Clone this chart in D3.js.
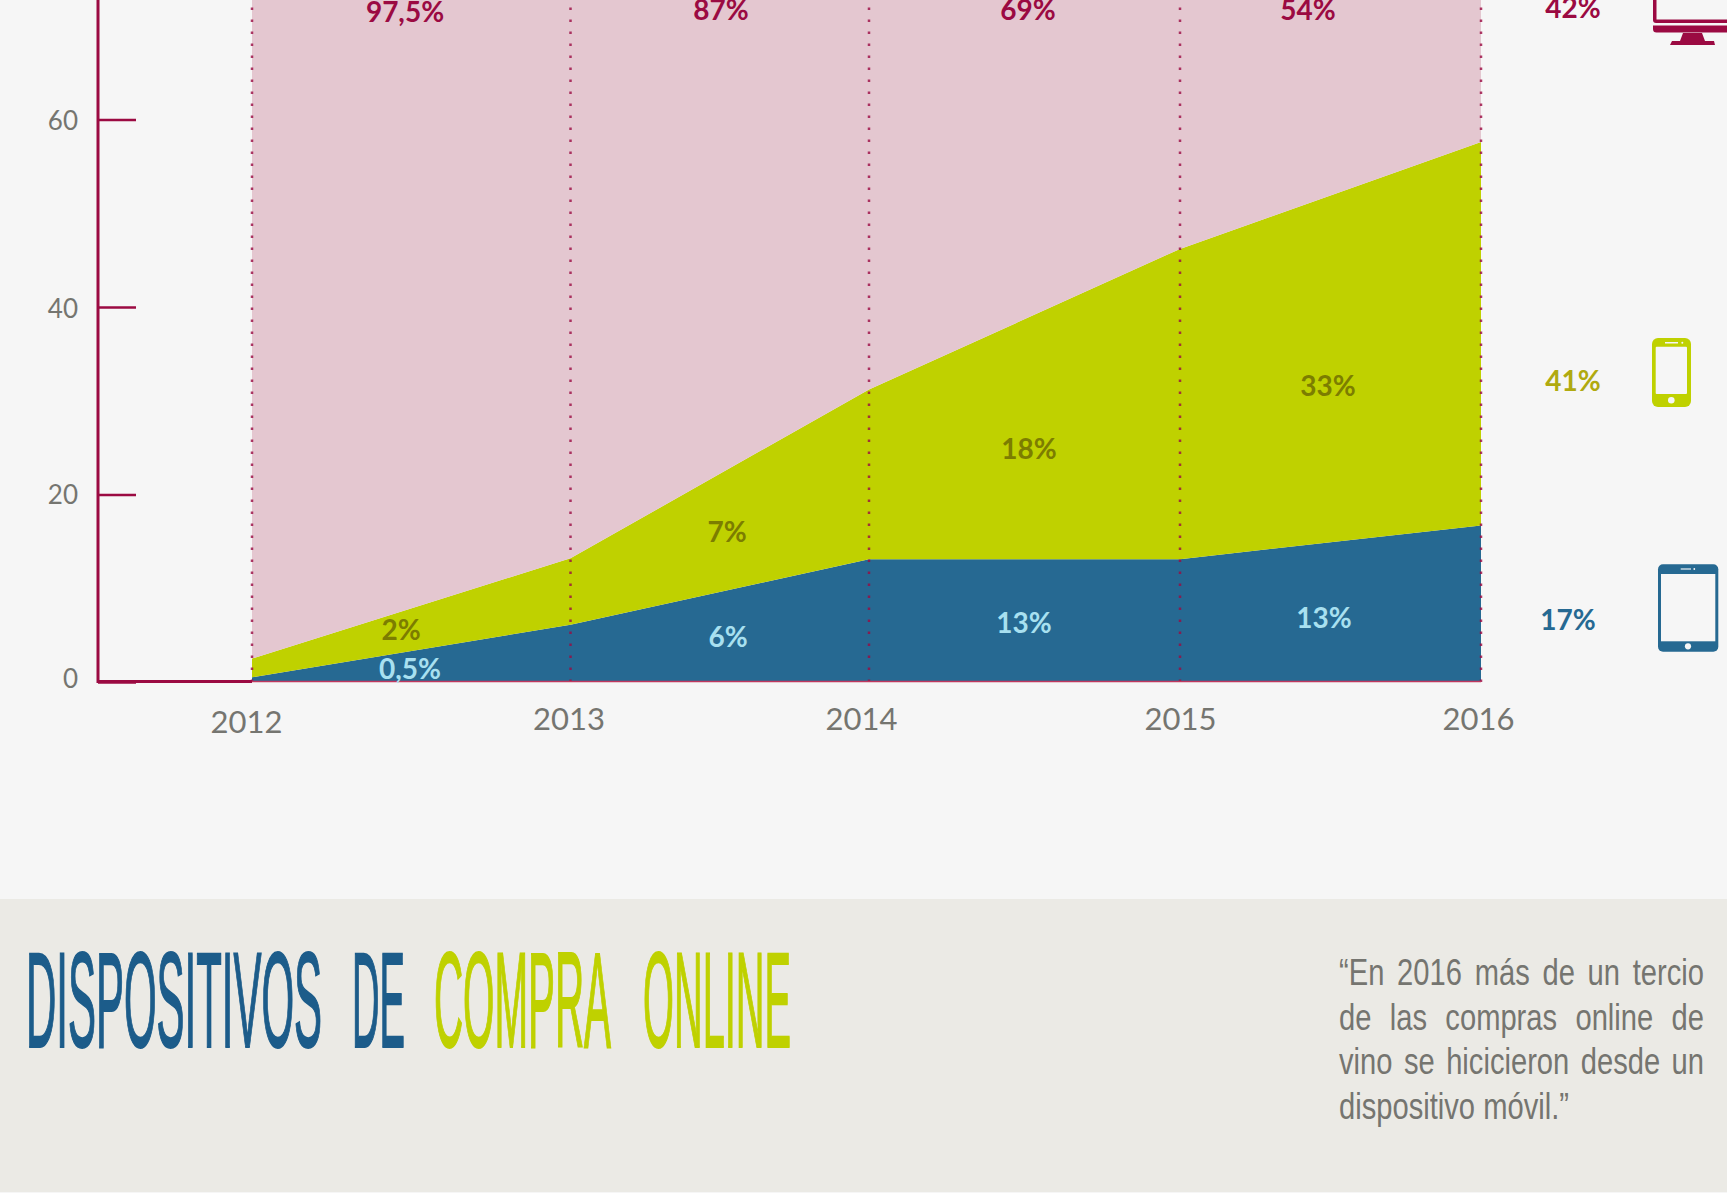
<!DOCTYPE html>
<html lang="es">
<head>
<meta charset="UTF-8">
<title>Dispositivos de compra online</title>
<style>
    html, body { margin: 0; padding: 0; background: #f6f6f6; overflow: hidden; }
    svg { display: block; }
    text { font-family: Lato, sans-serif; }
</style>
</head>
<body>
<svg id="chart" width="1727" height="1193"></svg>
<script src="https://d3js.org/d3.v7.min.js"></script>
<script>
// data
const years = [2012, 2013, 2014, 2015, 2016];
const tablet = [0.5, 6.1, 13.1, 13.1, 16.7];
const mobile = [2, 7.1, 18.1, 33.1, 40.9];
const desktop = [97.5, 87, 69, 54, 42];
const yTicks = [0, 20, 40, 60];
const desktopLabels = ["97,5%", "87%", "69%", "54%", "42%"];
const mobileLabels = ["2%", "7%", "18%", "33%", "41%"];
const tabletLabels = ["0,5%", "6%", "13%", "13%", "17%"];
const quoteLines = ["“En 2016 más de un tercio", "de las compras online de", "vino se hicicieron desde un", "dispositivo móvil.”"];
const titleWords = ["DISPOSITIVOS", "DE", "COMPRA", "ONLINE"];

// layout (the years are not evenly spaced in the original)
const yearX = [252, 570.5, 869, 1180, 1481];
const yearLabelDx = [-6, -2, -8, 0, -3];
const yearLabelY = [733, 730, 730, 730, 730];
const desktopPos = [[405, 22], [721, 20], [1028, 20], [1308, 20], [1573, 18]];
const mobilePos = [[401, 640], [727, 542], [1029, 459], [1328, 396], [1573, 391]];
const tabletPos = [[410, 679], [728, 647], [1024, 633], [1324, 628], [1568, 630]];
const titlePos = [[26, 296], [352, 53], [434, 177], [643, 148]];

const crimson = "#9b0a42", pink = "#e4c7d0", green = "#bfd100", blue = "#266992", grey = "#757570";

const svg = d3.select("#chart");
const x = d3.scaleLinear().domain(years).range(yearX);
const y = d3.scaleLinear().domain([0, 60]).range([682, 119.5]);

const rows = years.map((yr, i) => ({year: yr, tablet: tablet[i], mobile: mobile[i], desktop: desktop[i]}));
const layers = d3.stack().keys(["tablet", "mobile", "desktop"])(rows);
const colors = {tablet: blue, mobile: green, desktop: pink};
const area = d3.area().x(d => x(d.data.year)).y0(d => y(d[0])).y1(d => y(d[1]));

svg.append("rect").attr("width", 1727).attr("height", 1193).attr("fill", "#f6f6f6");

svg.selectAll(".layer")
    .data(layers)
    .enter()
    .append("path")
    .attr("class", "layer")
    .attr("d", area)
    .attr("fill", d => colors[d.key]);

// dotted year lines
svg.selectAll(".year-line")
    .data(years)
    .enter()
    .append("line")
    .attr("class", "year-line")
    .attr("x1", d => x(d))
    .attr("x2", d => x(d))
    .attr("y1", 682)
    .attr("y2", 0)
    .attr("stroke", crimson)
    .attr("stroke-opacity", 0.8)
    .attr("stroke-width", 2.5)
    .attr("stroke-dasharray", "2.5 9.5");

// baseline: thin over the areas, heavy before them
svg.append("line").attr("x1", x(2012)).attr("x2", x(2016)).attr("y1", 681.5).attr("y2", 681.5)
    .attr("stroke", "#c0385f").attr("stroke-width", 1.5);
svg.append("line").attr("x1", 97).attr("x2", x(2012)).attr("y1", 681.5).attr("y2", 681.5)
    .attr("stroke", crimson).attr("stroke-width", 3);

// y axis
const yAxis = svg.append("g")
    .attr("transform", "translate(98,0)")
    .call(d3.axisLeft(y).tickValues(yTicks).tickSize(-38).tickPadding(20));
yAxis.select(".domain").remove();
yAxis.append("line").attr("y1", 0).attr("y2", 683).attr("stroke", crimson).attr("stroke-width", 3);
yAxis.selectAll(".tick line").attr("stroke", crimson).attr("stroke-width", 2.5);
yAxis.selectAll(".tick text")
    .attr("fill", grey)
    .style("font-size", "26px")
    .attr("dy", d => d === 0 ? "0.2em" : d === 20 ? "0.36em" : "0.4em");

// x axis
const xAxis = svg.append("g")
    .attr("transform", "translate(0,682)")
    .call(d3.axisBottom(x).tickValues(years).tickFormat(d3.format("d")).tickSize(0));
xAxis.select(".domain").remove();
xAxis.selectAll(".tick text")
    .attr("fill", grey)
    .style("font-size", "31px")
    .attr("x", (d, i) => yearLabelDx[i])
    .attr("y", (d, i) => yearLabelY[i] - 682)
    .attr("dy", 0);

// value labels
function drawLabels(labels, pos, fill, endFill) {
    svg.append("g").selectAll("text")
        .data(labels)
        .enter()
        .append("text")
        .attr("x", (d, i) => pos[i][0])
        .attr("y", (d, i) => pos[i][1])
        .attr("text-anchor", "middle")
        .attr("fill", (d, i) => i === labels.length - 1 ? endFill : fill)
        .style("font-size", "28px")
        .style("font-weight", 700)
        .text(d => d);
}
drawLabels(desktopLabels, desktopPos, crimson, crimson);
drawLabels(mobileLabels, mobilePos, "#7c7d00", "#b0aa10");
drawLabels(tabletLabels, tabletPos, "#a8e0f0", blue);

// device icons
const monitor = svg.append("g").attr("fill", crimson);
monitor.append("rect").attr("x", 1653).attr("y", -20).attr("width", 90).attr("height", 43).attr("rx", 3);
monitor.append("rect").attr("x", 1656.5).attr("y", -20).attr("width", 83).attr("height", 39.5).attr("fill", "#f6f6f6");
monitor.append("path").attr("d", "M1653 25.5H1731V32.5H1656.5Q1653 32.5 1653 29Z");
monitor.append("path").attr("d", "M1683 33H1702L1705 41H1714L1715 45H1670L1672 41H1680Z");

const phone = svg.append("g").attr("fill", green);
phone.append("rect").attr("x", 1652).attr("y", 338).attr("width", 39).attr("height", 69).attr("rx", 6);
phone.append("rect").attr("x", 1655.7).attr("y", 346.7).attr("width", 31.3).attr("height", 47.3).attr("rx", 1).attr("fill", "#f6f6f6");
phone.append("circle").attr("cx", 1671.3).attr("cy", 400.3).attr("r", 3.3).attr("fill", "#f6f6f6");
phone.append("rect").attr("x", 1665).attr("y", 342).attr("width", 13).attr("height", 1.5).attr("fill", "#f6f6f6");
phone.append("circle").attr("cx", 1682.3).attr("cy", 342.7).attr("r", 1).attr("fill", "#f6f6f6");

const tabletIcon = svg.append("g").attr("fill", blue);
tabletIcon.append("rect").attr("x", 1658).attr("y", 564.3).attr("width", 60.3).attr("height", 87.4).attr("rx", 5);
tabletIcon.append("rect").attr("x", 1661).attr("y", 574).attr("width", 54.3).attr("height", 67.3).attr("fill", "#f6f6f6");
tabletIcon.append("circle").attr("cx", 1688).attr("cy", 646.3).attr("r", 3.1).attr("fill", "#f6f6f6");
tabletIcon.append("rect").attr("x", 1680.7).attr("y", 568.3).attr("width", 10.3).attr("height", 1.4).attr("fill", "#cfdfe8");
tabletIcon.append("circle").attr("cx", 1694.3).attr("cy", 569).attr("r", 0.9).attr("fill", "#f6f6f6");

// footer band
svg.append("rect").attr("x", 0).attr("y", 899).attr("width", 1727).attr("height", 293).attr("fill", "#ebeae5");

svg.append("g").selectAll("text")
    .data(titleWords)
    .enter()
    .append("text")
    .attr("x", (d, i) => titlePos[i][0])
    .attr("y", 1047)
    .attr("textLength", (d, i) => titlePos[i][1])
    .attr("lengthAdjust", "spacingAndGlyphs")
    .attr("fill", (d, i) => i < 2 ? "#1c5c8a" : green)
    .attr("stroke", (d, i) => i < 2 ? "#1c5c8a" : green)
    .attr("stroke-width", 2)
    .style("font-family", "'Liberation Sans', sans-serif")
    .style("font-size", "136px")
    .text(d => d);

// quote, justified like the original except for the last line
const quoteLeft = 1339, quoteRight = 1704, lastLineWidth = 230;
const quote = svg.append("g").attr("transform", `translate(${quoteLeft},0)`);
const quoteText = quote.selectAll("text")
    .data(quoteLines)
    .enter()
    .append("text")
    .attr("y", (d, i) => 985 + i * 44.7)
    .attr("fill", grey)
    .style("font-family", "'Liberation Sans Narrow', 'Liberation Sans', sans-serif")
    .style("font-size", "36px")
    .text(d => d);
const sx = lastLineWidth / quoteText.nodes()[3].getComputedTextLength();
quote.attr("transform", `translate(${quoteLeft},0) scale(${sx},1)`);
quoteText.each(function(d, i) {
    if (i === 3) return;
    const gaps = d.split(" ").length - 1;
    const extra = (quoteRight - quoteLeft) / sx - this.getComputedTextLength();
    d3.select(this).style("word-spacing", `${extra / gaps}px`);
});
</script>
</body>
</html>
